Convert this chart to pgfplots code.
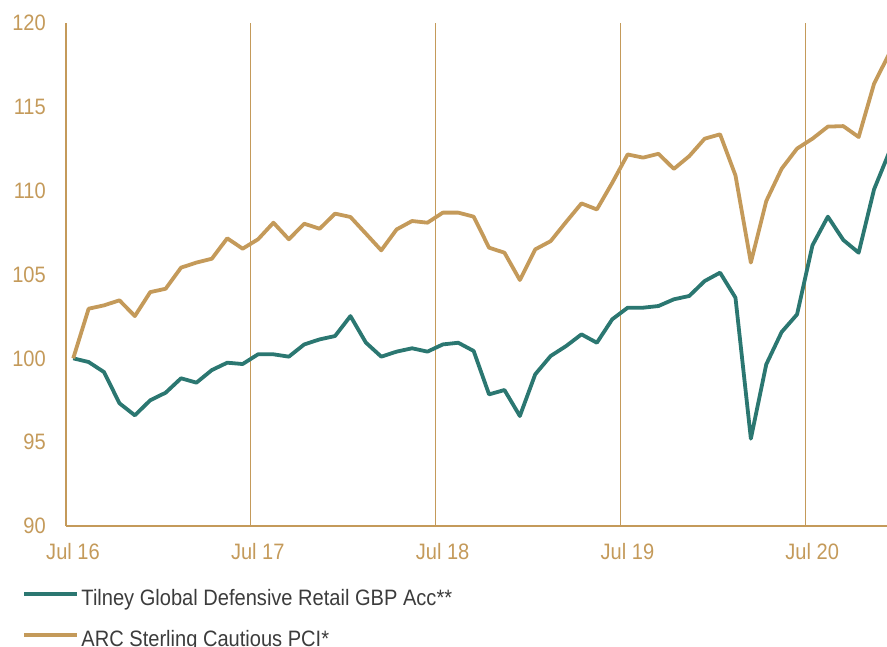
\documentclass[border=0pt]{standalone}
\usepackage{fontspec}
\setmainfont{Liberation Sans}[FakeStretch=0.9]
\usepackage{pgfplots}
\pgfplotsset{compat=1.18}
\definecolor{gold}{HTML}{C49A5A}
\definecolor{teal2}{HTML}{2B7771}
\definecolor{txt}{HTML}{3C3C3C}
\begin{document}
\begin{tikzpicture}
\path[use as bounding box] (-66pt,-120pt) rectangle (821pt,526pt);
\begin{axis}[
  at={(0pt,0pt)}, anchor=south west,
  scale only axis, width=821pt, height=503pt,
  xmin=0, xmax=53.31, ymin=90, ymax=120,
  axis x line*=bottom, axis y line*=left,
  axis line style={gold, line width=1.3pt, -},
  xtick={0,12,24,36,48},
  xticklabels={Jul 16,Jul 17,Jul 18,Jul 19,Jul 20},
  ytick={90,95,...,120},
  major tick length=0pt,
  xmajorgrids, major grid style={gold, line width=1.3pt},
  tick label style={font=\fontsize{22.3}{26}\selectfont, text=gold},
  /pgf/number format/assume math mode=true,
  yticklabel style={anchor=east, inner sep=0pt, xshift=-20pt},
  xticklabel style={anchor=north, inner sep=0pt, yshift=-17pt, xshift=7pt},
  legend style={at={([xshift=-44pt,yshift=-63pt]axis description cs:0,0)}, anchor=north west,
    draw=none, fill=none, inner sep=0pt, row sep=20pt,
    font=\fontsize{22.3}{26}\selectfont, text=txt,
    nodes={inner sep=0pt, text height=16pt, text depth=5pt},
    /tikz/every odd column/.append style={column sep=2.5pt}},
  legend cell align=left,
  legend image code/.code={\draw[#1] (-3pt,5.5pt) -- (50pt,5.5pt);},
  every axis plot/.append style={line width=3.8pt, line join=round},
]
\addplot[teal2] coordinates {
(0.47,100.00)(1.47,99.78)(2.47,99.18)(3.47,97.32)(4.47,96.60)(5.47,97.50)
(6.47,97.95)(7.47,98.81)(8.47,98.55)(9.47,99.30)(10.47,99.74)(11.47,99.66)
(12.47,100.24)(13.47,100.24)(14.47,100.10)(15.47,100.83)(16.47,101.13)(17.47,101.33)
(18.47,102.52)(19.47,100.94)(20.47,100.10)(21.47,100.40)(22.47,100.60)(23.47,100.40)
(24.47,100.83)(25.47,100.93)(26.47,100.44)(27.47,97.85)(28.47,98.11)(29.47,96.56)
(30.47,99.05)(31.47,100.14)(32.47,100.73)(33.47,101.43)(34.47,100.93)(35.47,102.33)
(36.47,103.02)(37.47,103.02)(38.47,103.12)(39.47,103.52)(40.47,103.72)(41.47,104.61)
(42.47,105.11)(43.47,103.62)(44.47,95.21)(45.47,99.64)(46.47,101.57)(47.47,102.62)
(48.47,106.74)(49.47,108.45)(50.47,107.06)(51.47,106.30)(52.47,110.08)(53.47,112.33)
};
\addlegendentry{Tilney Global Defensive Retail GBP Acc**}
\addplot[gold] coordinates {
(0.47,100.00)(1.47,102.96)(2.47,103.16)(3.47,103.46)(4.47,102.52)(5.47,103.95)
(6.47,104.15)(7.47,105.41)(8.47,105.71)(9.47,105.94)(10.47,107.16)(11.47,106.54)
(12.47,107.10)(13.47,108.09)(14.47,107.10)(15.47,108.03)(16.47,107.73)(17.47,108.63)
(18.47,108.43)(19.47,107.44)(20.47,106.44)(21.47,107.69)(22.47,108.19)(23.47,108.09)
(24.47,108.69)(25.47,108.69)(26.47,108.45)(27.47,106.60)(28.47,106.30)(29.47,104.67)
(30.47,106.50)(31.47,106.99)(32.47,108.13)(33.47,109.24)(34.47,108.88)(35.47,110.47)
(36.47,112.16)(37.47,111.97)(38.47,112.20)(39.47,111.30)(40.47,112.06)(41.47,113.10)
(42.47,113.36)(43.47,110.91)(44.47,105.71)(45.47,109.38)(46.47,111.31)(47.47,112.51)
(48.47,113.10)(49.47,113.82)(50.47,113.85)(51.47,113.20)(52.47,116.38)(53.47,118.20)
};
\addlegendentry{ARC Sterling Cautious PCI*}
\end{axis}
\end{tikzpicture}
\end{document}
